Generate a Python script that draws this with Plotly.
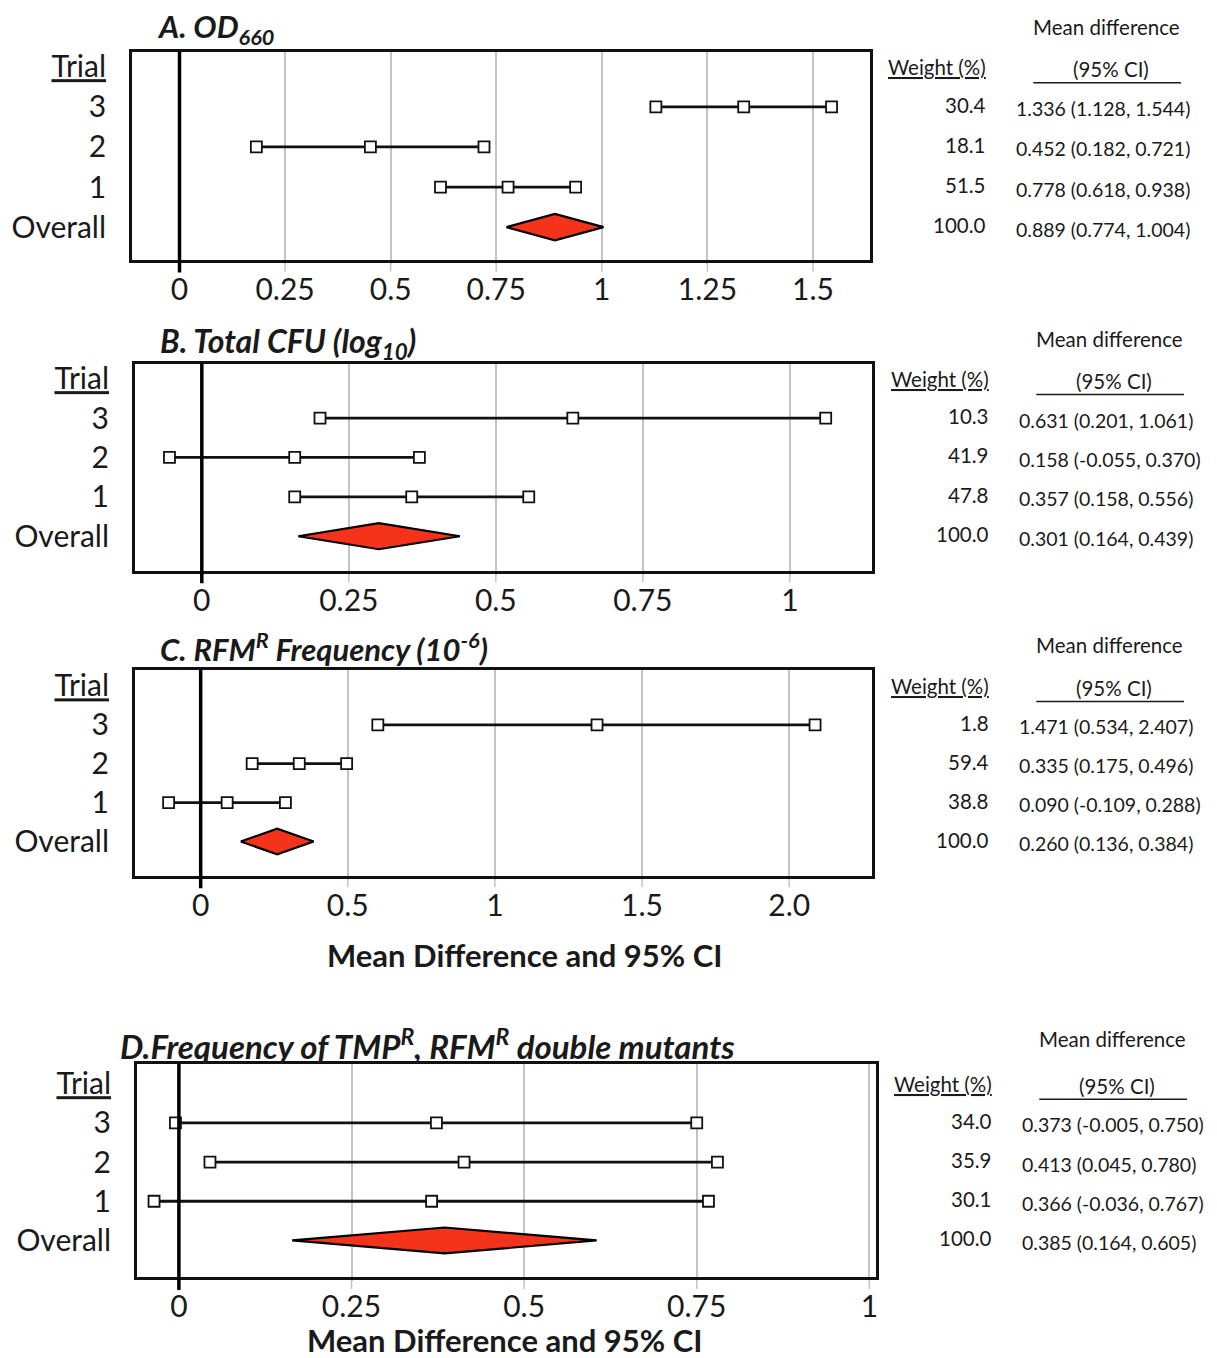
import plotly.graph_objects as go

W, H = 1217, 1358
FW, FH = W, H
FONT = "Lato"
TXT = "#1a1a1a"
RED = "#F5321A"
GRID = "#c4c4c4"

# ---------------- data ----------------
row_labels = ["Overall", "1", "2", "3", "<u>Trial</u>"]
trial_rows = [1, 2, 3]

# Panel A: OD660
a_lower = [0.618, 0.182, 1.128]
a_mean = [0.778, 0.452, 1.336]
a_upper = [0.938, 0.721, 1.544]
a_overall = [0.774, 0.889, 1.004]
a_weight = ["51.5", "18.1", "30.4", "100.0"]
a_ci = ["0.778 (0.618, 0.938)", "0.452 (0.182, 0.721)", "1.336 (1.128, 1.544)", "0.889 (0.774, 1.004)"]
a_ticks = [0, 0.25, 0.5, 0.75, 1, 1.25, 1.5]
a_ticktext = ["0", "0.25", "0.5", "0.75", "1", "1.25", "1.5"]

# Panel B: Total CFU (log10)
b_lower = [0.158, -0.055, 0.201]
b_mean = [0.357, 0.158, 0.631]
b_upper = [0.556, 0.370, 1.061]
b_overall = [0.164, 0.301, 0.439]
b_weight = ["47.8", "41.9", "10.3", "100.0"]
b_ci = ["0.357 (0.158, 0.556)", "0.158 (-0.055, 0.370)", "0.631 (0.201, 1.061)", "0.301 (0.164, 0.439)"]
b_ticks = [0, 0.25, 0.5, 0.75, 1]
b_ticktext = ["0", "0.25", "0.5", "0.75", "1"]

# Panel C: RFM^R frequency (marks as drawn in the picture)
c_lower = [-0.109, 0.175, 0.602]
c_mean = [0.090, 0.335, 1.347]
c_upper = [0.288, 0.496, 2.088]
c_overall = [0.136, 0.260, 0.384]
c_weight = ["38.8", "59.4", "1.8", "100.0"]
c_ci = ["0.090 (-0.109, 0.288)", "0.335 (0.175, 0.496)", "1.471 (0.534, 2.407)", "0.260 (0.136, 0.384)"]
c_ticks = [0, 0.5, 1, 1.5, 2]
c_ticktext = ["0", "0.5", "1", "1.5", "2.0"]

# Panel D: TMP^R, RFM^R double mutants
d_lower = [-0.036, 0.045, -0.005]
d_mean = [0.366, 0.413, 0.373]
d_upper = [0.767, 0.780, 0.750]
d_overall = [0.164, 0.385, 0.605]
d_weight = ["30.1", "35.9", "34.0", "100.0"]
d_ci = ["0.366 (-0.036, 0.767)", "0.413 (0.045, 0.780)", "0.373 (-0.005, 0.750)", "0.385 (0.164, 0.605)"]
d_ticks = [0, 0.25, 0.5, 0.75, 1]
d_ticktext = ["0", "0.25", "0.5", "0.75", "1"]

panels = [
    dict(title="<b><i>A. OD<sub>660</sub></i></b>", tx=155, ty=24, tsize=31,
         box=(132, 871, 47, 256), xr=(-0.113, 1.634), yr=(-0.82, 4.37),
         lo=a_lower, me=a_mean, up=a_upper, ov=a_overall, wt=a_weight, ci=a_ci,
         ticks=a_ticks, ticktext=a_ticktext, dx=0, axtitle=False),
    dict(title="<b><i>B. Total CFU (log<sub>10</sub>)</i></b>", tx=158, ty=339, tsize=32,
         box=(135, 873, 360, 568), xr=(-0.114, 1.139), yr=(-0.88, 4.38),
         lo=b_lower, me=b_mean, up=b_upper, ov=b_overall, wt=b_weight, ci=b_ci,
         ticks=b_ticks, ticktext=b_ticktext, dx=3, axtitle=False),
    dict(title="<b><i>C. RFM<sup>R</sup> Frequency (10<sup>-6</sup>)</i></b>", tx=158, ty=645, tsize=31,
         box=(135, 873, 667, 874), xr=(-0.224, 2.28), yr=(-0.88, 4.42),
         lo=c_lower, me=c_mean, up=c_upper, ov=c_overall, wt=c_weight, ci=c_ci,
         ticks=c_ticks, ticktext=c_ticktext, dx=3, axtitle=True, aty=954, atx=525),
    dict(title="<b><i>D.Frequency of TMP<sup>R</sup>, RFM<sup>R</sup> double mutants</i></b>", tx=118, ty=1043, tsize=33,
         box=(137, 877, 1063, 1277), xr=(-0.061, 1.009), yr=(-0.94, 4.5),
         lo=d_lower, me=d_mean, up=d_upper, ov=d_overall, wt=d_weight, ci=d_ci,
         ticks=d_ticks, ticktext=d_ticktext, dx=6, axtitle=True, aty=1340, atx=505),
]

fig = go.Figure()
annotations = []
shapes = []


def px(x):
    return x / FW


def py(y):
    return 1 - y / FH


LBL = 30
SMALL = 20.5
CI_SIZE = 19.5

for i, p in enumerate(panels):
    n = "" if i == 0 else str(i + 1)
    xa, ya = "x" + n, "y" + n
    x0, x1, y0, y1 = p["box"]
    fig.update_layout(**{
        ("xaxis" + n): dict(
            domain=[px(x0), px(x1)], range=list(p["xr"]), anchor=ya,
            tickvals=p["ticks"], ticktext=p["ticktext"],
            showgrid=True, gridcolor=GRID, gridwidth=1.5,
            ticks="outside", ticklen=1, tickwidth=1.5, tickcolor=GRID,
            showline=True, mirror=True, linecolor="#111111", linewidth=2.5,
            zeroline=False, fixedrange=True,
            tickfont=dict(family=FONT, size=LBL, color=TXT),
        ),
        ("yaxis" + n): dict(
            domain=[py(y1), py(y0)], range=list(p["yr"]), anchor=xa,
            tickvals=[0, 1, 2, 3, 4], ticktext=row_labels,
            showgrid=False, zeroline=False,
            ticks="outside", ticklen=17, tickcolor="rgba(0,0,0,0)",
            showline=True, mirror=True, linecolor="#111111", linewidth=2.5,
            fixedrange=True,
            tickfont=dict(family=FONT, size=LBL, color=TXT),
        ),
    })
    # short gridline stubs below the box at each nonzero tick
    for t in p["ticks"]:
        if t != 0:
            shapes.append(dict(type="line", xref=xa, yref=ya + " domain", x0=t, x1=t,
                               y0=-0.055, y1=0, line=dict(color=GRID, width=1.5), layer="below"))
    # zero reference line extending below the box
    shapes.append(dict(type="line", xref=xa, yref=ya + " domain", x0=0, x1=0,
                       y0=-0.06, y1=1, line=dict(color="#000000", width=3.5), layer="above"))
    # trials
    for r, lo, me, up in zip(trial_rows, p["lo"], p["me"], p["up"]):
        fig.add_trace(go.Scatter(
            x=[lo, me, up], y=[r, r, r], xaxis=xa, yaxis=ya, mode="lines+markers",
            line=dict(color="#111111", width=2.8),
            marker=dict(symbol="square", size=11, color="white",
                        line=dict(color="#111111", width=1.8)),
            showlegend=False, hoverinfo="x+y"))
    # overall diamond
    ol, om, ou = p["ov"]
    h = 0.33
    fig.add_trace(go.Scatter(
        x=[ol, om, ou, om, ol], y=[0, h, 0, -h, 0], xaxis=xa, yaxis=ya,
        mode="lines", fill="toself", fillcolor=RED,
        line=dict(color="#000000", width=2.2), showlegend=False, hoverinfo="skip"))
    # title
    annotations.append(dict(text=p["title"], xref="paper", yref="paper",
                            x=px(p["tx"]), y=py(p["ty"]), xanchor="left", yanchor="middle",
                            showarrow=False, font=dict(family=FONT, size=p["tsize"], color=TXT)))
    # right-hand table
    dx = p["dx"]
    annotations.append(dict(text="Mean difference", xref="paper", yref="paper",
                            x=px(1108 + dx), y=py(p["box"][2] - 25), xanchor="center", yanchor="middle",
                            showarrow=False, font=dict(family=FONT, size=SMALL, color=TXT)))
    annotations.append(dict(text="<u>Weight (%)</u>", xref="paper", yref=ya,
                            x=px(990 + dx), y=4, xanchor="right", yanchor="middle",
                            showarrow=False, font=dict(family=FONT, size=SMALL, color=TXT)))
    annotations.append(dict(text="(95% CI)", xref="paper", yref=ya,
                            x=px(1113 + dx), y=3.95, xanchor="center", yanchor="middle",
                            showarrow=False, font=dict(family=FONT, size=SMALL, color=TXT)))
    shapes.append(dict(type="line", xref="paper", yref=ya, x0=px(1035 + dx), x1=px(1183 + dx),
                       y0=3.6, y1=3.6, line=dict(color=TXT, width=1.5)))
    for r, wt, ci in zip([1, 2, 3, 0], p["wt"], p["ci"]):
        annotations.append(dict(text=wt, xref="paper", yref=ya, x=px(990 + dx), y=r + 0.05,
                                xanchor="right", yanchor="middle", showarrow=False,
                                font=dict(family=FONT, size=SMALL, color=TXT)))
        annotations.append(dict(text=ci, xref="paper", yref=ya, x=px(1016 + dx), y=r - 0.05,
                                xanchor="left", yanchor="middle", showarrow=False,
                                font=dict(family=FONT, size=CI_SIZE, color=TXT)))
    if p["axtitle"]:
        annotations.append(dict(text="<b>Mean Difference and 95% CI</b>", xref="paper", yref="paper",
                                x=px(p["atx"]), y=py(p["aty"]), xanchor="center", yanchor="middle",
                                showarrow=False, font=dict(family=FONT, size=31, color=TXT)))

fig.update_layout(
    width=FW, height=FH, margin=dict(l=0, r=0, t=0, b=0),
    paper_bgcolor="white", plot_bgcolor="white",
    annotations=annotations, shapes=shapes, showlegend=False,
    font=dict(family=FONT, color=TXT),
)

fig.write_html(
    "out.html",
    config={"displayModeBar": False},
    post_script="document.body.style.margin='0';document.body.style.overflow='hidden';",
)
